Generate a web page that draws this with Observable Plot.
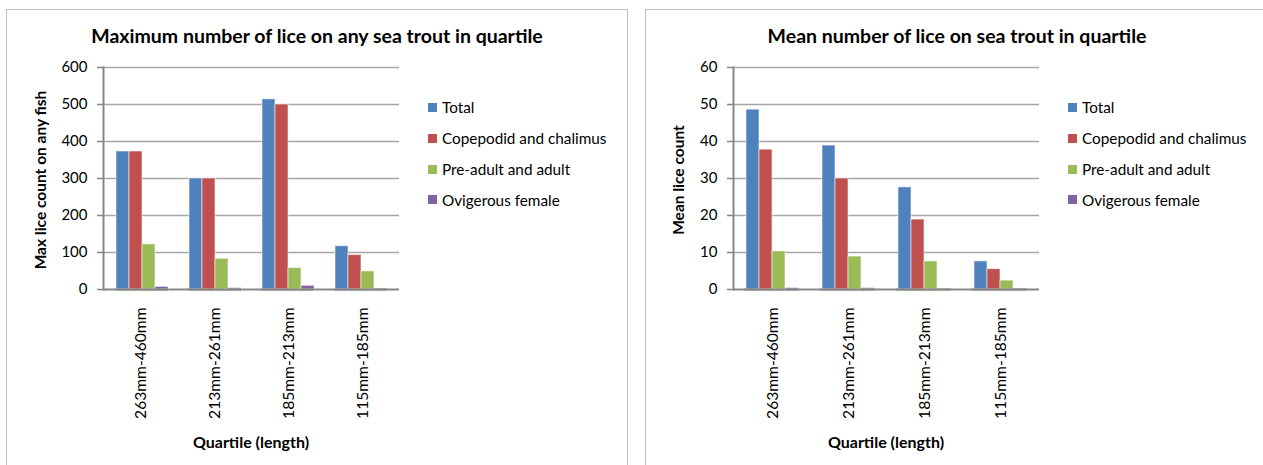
<!DOCTYPE html>
<html><head><meta charset="utf-8">
<script src="https://cdn.jsdelivr.net/npm/d3@7"></script>
<script src="https://cdn.jsdelivr.net/npm/@observablehq/plot@0.6"></script>
<style>
body{margin:0;background:#fff;font-family:Lato,sans-serif;}
#wrap{position:relative;width:1263px;height:465px;overflow:hidden;background:#fff;}
.panel{position:absolute;border:1.5px solid #BFBFBF;box-sizing:border-box;}
.chart{position:absolute;top:0;}
.title{position:absolute;font-weight:bold;font-size:19.5px;white-space:nowrap;transform:translate(-50%,-50%);color:#000;}
.ytitle{position:absolute;font-weight:bold;font-size:15.5px;white-space:nowrap;transform:translate(-50%,-50%) rotate(-90deg);color:#000;}
.xtitle{position:absolute;font-weight:bold;font-size:16px;white-space:nowrap;transform:translate(-50%,-50%);color:#000;}
.legend{position:absolute;font-size:15.3px;color:#000;}
.legend .item{position:absolute;white-space:nowrap;display:flex;align-items:center;transform:translateY(-50%);}
.legend .sw{width:9px;height:9px;margin-right:5px;display:inline-block;}
</style>
</head><body>
<div id="wrap"></div>
<script>
const quartiles = ["263mm-460mm", "213mm-261mm", "185mm-213mm", "115mm-185mm"];
const series = ["Total", "Copepodid and chalimus", "Pre-adult and adult", "Ovigerous female"];
const colors = ["#4F81BD", "#C0504D", "#9BBB59", "#8064A2"];

// Maximum number of lice on any sea trout
const maxTotal = [373, 300, 514, 117];
const maxCopepodid = [373, 300, 500, 93];
const maxPreAdult = [122, 83, 58, 49];
const maxOvigerous = [7, 4, 10, 0];
const maxTicks = [0, 100, 200, 300, 400, 500, 600];

// Mean number of lice on sea trout
const meanTotal = [48.6, 38.9, 27.6, 7.6];
const meanCopepodid = [37.8, 30.0, 18.9, 5.5];
const meanPreAdult = [10.3, 8.9, 7.6, 2.4];
const meanOvigerous = [0.4, 0.4, 0, 0];
const meanTicks = [0, 10, 20, 30, 40, 50, 60];

function rowsOf(arrays) {
  const rows = [];
  quartiles.forEach((q, i) => series.forEach((s, j) => rows.push({quartile: q, series: s, value: arrays[j][i]})));
  return rows;
}

const wrap = document.getElementById("wrap");
const PAD_IN = 0.27, PAD_OUT = 0.14;

function addPanel(cfg) {
  const p = document.createElement("div");
  p.className = "panel";
  Object.assign(p.style, {left: cfg.panel[0] + "px", top: cfg.panel[1] + "px", width: cfg.panel[2] + "px", height: cfg.panel[3] + "px"});
  wrap.appendChild(p);

  const common = {
    width: cfg.width, height: 465,
    marginLeft: cfg.ml, marginRight: cfg.width - cfg.pr, marginTop: 67, marginBottom: 465 - 289,
    style: {fontFamily: "Lato, sans-serif", fontSize: "15px", color: "#000", background: "transparent", overflow: "visible"}
  };

  // Base layer: grid, axes, category labels
  const base = Plot.plot({
    ...common,
    y: {domain: [0, cfg.ticks[cfg.ticks.length - 1]], label: null},
    x: {domain: quartiles, paddingInner: PAD_IN, paddingOuter: PAD_OUT, label: null},
    marks: [
      Plot.ruleY(cfg.ticks.slice(1), {stroke: "#A6A6A6", strokeWidth: 1.5}),
      Plot.ruleY([0], {stroke: "#868686", strokeWidth: 2}),
      Plot.frame({anchor: "left", stroke: "#868686", strokeWidth: 2}),
      Plot.axisY({ticks: cfg.ticks, tickSize: 6, tickPadding: 10, stroke: "#868686", fill: "#000", strokeWidth: 1.5, label: null, fontSize: 15}),
      Plot.axisX({anchor: "bottom", tickRotate: -90, tickSize: 0, tickPadding: 18, label: null, fontSize: 15.6, fill: "#000"})
    ]
  });
  base.classList.add("chart");
  base.style.left = cfg.left + "px";
  wrap.appendChild(base);

  // Bar layer: grouped bars via facets
  const rows = rowsOf(cfg.data);
  const bars = Plot.plot({
    ...common,
    y: {domain: [0, cfg.ticks[cfg.ticks.length - 1]], label: null, axis: null},
    fx: {domain: quartiles, paddingInner: PAD_IN, paddingOuter: PAD_OUT, label: null, axis: null},
    x: {domain: series, padding: 0, axis: null},
    color: {domain: series, range: colors},
    marks: [
      Plot.barY(rows, {fx: "quartile", x: "series", y: "value", fill: "series", stroke: "#ffffff", strokeOpacity: 0.55, strokeWidth: 1}),
      Plot.ruleY([0], {stroke: "#868686", strokeWidth: 2})
    ]
  });
  bars.classList.add("chart");
  bars.style.left = cfg.left + "px";
  wrap.appendChild(bars);

  const t = document.createElement("div");
  t.className = "title"; t.textContent = cfg.title;
  Object.assign(t.style, {left: cfg.titleX + "px", top: "35px"});
  wrap.appendChild(t);

  const yt = document.createElement("div");
  yt.className = "ytitle"; yt.textContent = cfg.ytitle;
  Object.assign(yt.style, {left: cfg.ytX + "px", top: "180px"});
  wrap.appendChild(yt);

  const xt = document.createElement("div");
  xt.className = "xtitle"; xt.textContent = "Quartile (length)";
  Object.assign(xt.style, {left: cfg.xtX + "px", top: "441px"});
  wrap.appendChild(xt);

  const lg = document.createElement("div");
  lg.className = "legend";
  Object.assign(lg.style, {left: cfg.legX + "px", top: "0px"});
  const ys = [107, 138, 169, 199.5];
  series.forEach((s, i) => {
    const it = document.createElement("div");
    it.className = "item";
    it.style.top = ys[i] + "px";
    const sw = document.createElement("span");
    sw.className = "sw"; sw.style.background = colors[i];
    it.appendChild(sw);
    it.appendChild(document.createTextNode(s));
    lg.appendChild(it);
  });
  wrap.appendChild(lg);
}

addPanel({
  panel: [6, 9, 622, 480], left: 0, width: 630, ml: 103, pr: 399,
  data: [maxTotal, maxCopepodid, maxPreAdult, maxOvigerous], ticks: maxTicks,
  title: "Maximum number of lice on any sea trout in quartile", titleX: 317,
  ytitle: "Max lice count  on any fish", ytX: 40, xtX: 251, legX: 428
});
addPanel({
  panel: [645, 9, 640, 480], left: 630, width: 633, ml: 733 - 630, pr: 1039 - 630,
  data: [meanTotal, meanCopepodid, meanPreAdult, meanOvigerous], ticks: meanTicks,
  title: "Mean number of lice on sea trout in quartile", titleX: 957,
  ytitle: "Mean lice count", ytX: 678, xtX: 886, legX: 1068
});
</script>
</body></html>
